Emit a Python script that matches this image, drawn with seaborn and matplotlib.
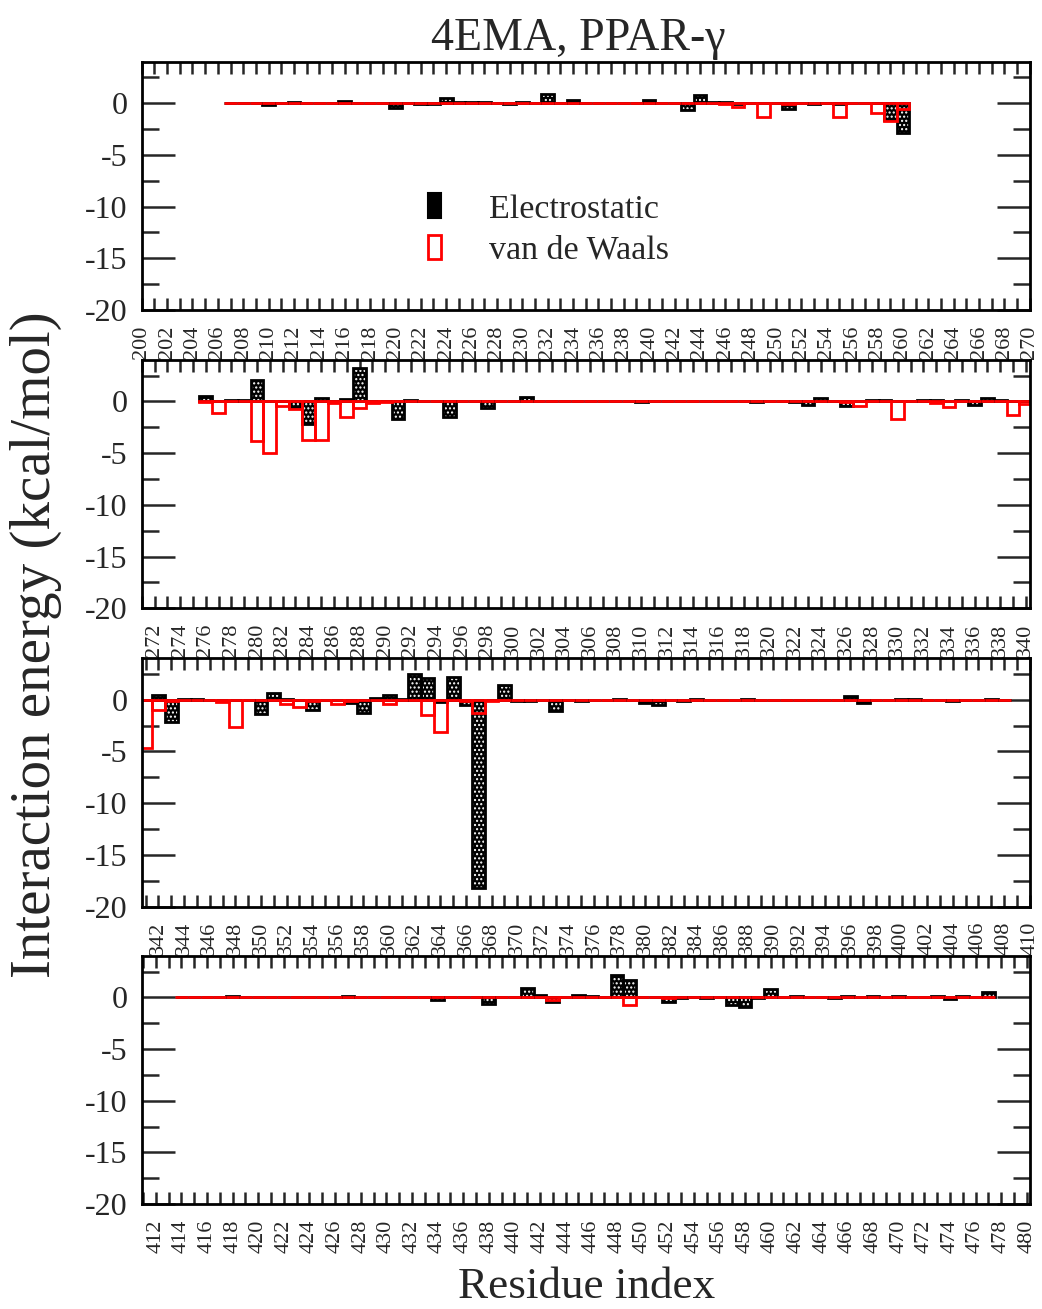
import matplotlib
matplotlib.use("Agg")
import matplotlib.pyplot as plt
import seaborn as sns
import pandas as pd
from matplotlib.patches import Patch
from matplotlib.ticker import MultipleLocator

# ---------------- data ----------------
res1 = list(range(207, 261))
elec1 = [0.0, 0.0, 0.0, -0.2, 0.0, 0.15, 0.0, 0.0, 0.0, 0.2,
         0.0, 0.0, 0.0, -0.5, 0.0, -0.1, -0.1, 0.5, 0.1, 0.1,
         0.1, 0.0, -0.1, 0.15, 0.0, 0.9, 0.0, 0.3, 0.0, 0.0,
         0.0, 0.0, 0.0, 0.25, 0.0, 0.0, -0.7, 0.75, 0.1, 0.1,
         -0.1, 0.0, 0.05, 0.0, -0.6, 0.0, -0.05, 0.0, -0.1, 0.0,
         0.0, 0.0, -1.6, -2.9]
vdw1 = [0.0, 0.0, 0.0, 0.0, 0.0, 0.0, 0.0, 0.0, 0.0, 0.0,
        0.0, 0.0, 0.0, 0.0, 0.0, 0.0, 0.0, 0.0, 0.0, 0.0,
        0.0, 0.0, 0.0, 0.0, 0.0, 0.0, 0.0, 0.0, 0.0, 0.0,
        0.0, 0.0, 0.0, 0.0, 0.0, 0.0, 0.0, 0.0, 0.0, -0.05,
        -0.4, 0.0, -1.35, 0.0, -0.05, 0.0, 0.0, 0.0, -1.35, 0.0,
        0.0, -0.95, -1.75, -0.6]

res2 = list(range(276, 341))
elec2 = [0.55, 0.05, 0.1, 0.1, 2.1, 0.0, 0.05, -0.5, -2.2, 0.3,
         0.0, 0.2, 3.2, 0.0, 0.05, -1.7, 0.1, 0.0, 0.0, -1.5,
         0.0, 0.0, -0.6, 0.0, 0.0, 0.4, 0.0, 0.0, 0.0, 0.0,
         0.0, 0.0, 0.0, 0.0, -0.1, 0.0, 0.0, 0.0, 0.0, 0.0,
         0.0, 0.0, 0.0, -0.1, 0.0, 0.0, -0.1, -0.35, 0.35, 0.0,
         -0.4, 0.0, 0.15, 0.15, 0.05, 0.0, 0.15, 0.1, 0.0, 0.1,
         -0.35, 0.3, 0.1, 0.05, 0.0]
vdw2 = [-0.1, -1.1, 0.0, 0.0, -3.8, -5.0, -0.4, -0.7, -3.7, -3.7,
        -0.2, -1.5, -0.6, -0.2, -0.05, 0.0, 0.0, 0.0, 0.0, 0.0,
        0.0, 0.0, 0.0, 0.0, 0.0, 0.0, 0.0, 0.0, 0.0, 0.0,
        0.0, 0.0, 0.0, 0.0, 0.0, 0.0, 0.0, 0.0, 0.0, 0.0,
        0.0, 0.0, 0.0, 0.0, 0.0, 0.0, 0.0, 0.0, 0.0, 0.0,
        -0.1, -0.4, 0.0, 0.0, -1.75, 0.0, 0.0, -0.2, -0.5, 0.0,
        0.0, 0.0, 0.0, -1.3, -0.3]

res3 = list(range(341, 409))
elec3 = [0.0, 0.5, -2.2, 0.1, 0.1, 0.0, 0.0, 0.0, 0.0, -1.35,
         0.6, 0.1, 0.0, -1.0, 0.0, 0.0, -0.3, -1.25, 0.2, 0.45,
         0.1, 2.5, 2.1, -0.2, 2.2, -0.5, -18.2, 0.0, 1.4, -0.1,
         -0.1, 0.0, -1.1, 0.0, -0.1, 0.0, 0.0, 0.1, 0.0, -0.3,
         -0.55, 0.0, -0.15, 0.1, 0.0, 0.0, 0.0, 0.1, 0.0, 0.0,
         0.0, 0.0, 0.0, 0.0, 0.0, 0.35, -0.3, 0.0, 0.0, 0.1,
         0.1, 0.0, 0.0, -0.1, 0.0, 0.0, 0.1, 0.0]
vdw3 = [-4.7, -1.0, -0.1, 0.0, 0.0, 0.0, -0.2, -2.6, 0.0, 0.0,
        0.0, -0.4, -0.7, -0.1, 0.0, -0.45, -0.1, 0.0, 0.0, -0.45,
        0.0, 0.0, -1.5, -3.1, 0.0, -0.1, -1.25, -0.1, 0.0, 0.0,
        0.0, 0.0, 0.0, 0.0, 0.0, 0.0, 0.0, 0.0, 0.0, 0.0,
        0.0, 0.0, 0.0, 0.0, 0.0, 0.0, 0.0, 0.0, 0.0, 0.0,
        0.0, 0.0, 0.0, 0.0, 0.0, 0.0, 0.0, 0.0, 0.0, 0.0,
        0.0, 0.0, 0.0, 0.0, 0.0, 0.0, 0.0, 0.0]

res4 = list(range(414, 478))
elec4 = [0.0, 0.0, 0.0, 0.0, 0.15, 0.0, 0.0, 0.0, 0.0, 0.0,
         0.0, 0.0, 0.0, 0.15, 0.0, 0.0, 0.0, 0.0, 0.0, 0.0,
         -0.3, 0.0, 0.0, 0.0, -0.65, 0.0, 0.0, 0.95, 0.2, -0.45,
         0.0, 0.2, 0.1, 0.0, 2.15, 1.7, 0.05, 0.0, -0.45, -0.1,
         0.0, -0.1, 0.0, -0.7, -0.9, -0.05, 0.8, 0.0, 0.1, 0.0,
         0.0, -0.05, 0.15, 0.0, 0.1, 0.0, 0.1, 0.0, 0.0, 0.1,
         -0.2, 0.15, 0.0, 0.5]
vdw4 = [0.0, 0.0, 0.0, 0.0, 0.0, 0.0, 0.0, 0.0, 0.0, 0.0,
        0.0, 0.0, 0.0, 0.0, 0.0, 0.0, 0.0, 0.0, 0.0, 0.0,
        0.0, 0.0, 0.0, 0.0, 0.0, 0.0, 0.0, 0.0, 0.0, -0.3,
        0.0, 0.0, 0.0, 0.0, 0.0, -0.7, 0.0, 0.0, -0.1, 0.0,
        0.0, 0.0, 0.0, 0.0, 0.0, 0.0, 0.0, 0.0, 0.0, 0.0,
        0.0, 0.0, 0.0, 0.0, 0.0, 0.0, 0.0, 0.0, 0.0, 0.0,
        0.0, 0.0, 0.0, 0.0]

title_text = "4EMA, PPAR-\u03b3"
ylabel_text = "Interaction energy (kcal/mol)"
xlabel_text = "Residue index"
legend_labels = ["Electrostatic", "van de Waals"]

# ---------------- style ----------------
sns.set_style("ticks")
plt.rcParams["font.family"] = ["Liberation Serif", "DejaVu Serif"]
plt.rcParams["axes.unicode_minus"] = False
plt.rcParams["hatch.linewidth"] = 1.0

W, H = 1042, 1309
fig = plt.figure(figsize=(W / 100, H / 100), dpi=100)

left_px, right_px = 141.7, 1030.0
panel_px = [(61.7, 310.0), (360.0, 608.3), (658.3, 906.7), (956.0, 1204.0)]
xlims = [(200.0, 270.02), (271.0, 340.32), (340.69, 410.02), (410.9, 480.25)]

panels = [(res1, elec1, vdw1), (res2, elec2, vdw2),
          (res3, elec3, vdw3), (res4, elec4, vdw4)]

axes = []
for (top, bot), (res, el, vd), xl in zip(panel_px, panels, xlims):
    ax = fig.add_axes([left_px / W, 1 - bot / H, (right_px - left_px) / W, (bot - top) / H])
    df = pd.DataFrame({"res": res, "elec": el, "vdw": vd})
    # electrostatic: black face with white dotted hatch
    sns.barplot(data=df, x="res", y="elec", native_scale=True, width=1.0,
                color="black", saturation=1, errorbar=None, ax=ax,
                edgecolor="white", linewidth=0, hatch="....")
    # electrostatic outline
    sns.barplot(data=df, x="res", y="elec", native_scale=True, width=1.0,
                color="black", saturation=1, errorbar=None, ax=ax,
                fill=False, linewidth=2.0)
    # van der Waals: red outlines
    sns.barplot(data=df, x="res", y="vdw", native_scale=True, width=1.0,
                color="red", saturation=1, errorbar=None, ax=ax,
                fill=False, linewidth=2.0)
    ax.set_xlim(*xl)
    ax.set_ylim(-20, 4)
    ax.set_xlabel("")
    ax.set_ylabel("")
    ax.xaxis.set_major_locator(MultipleLocator(2))
    ax.xaxis.set_minor_locator(MultipleLocator(1))
    ax.yaxis.set_major_locator(MultipleLocator(5))
    ax.yaxis.set_minor_locator(MultipleLocator(2.5))
    ax.tick_params(axis="x", which="both", direction="in", top=True, bottom=True,
                   length=8.6, width=1.8, labelsize=16, labelrotation=90, pad=11)
    ax.tick_params(axis="y", which="major", direction="in", left=True, right=True,
                   length=24, width=1.8, labelsize=23, pad=10)
    ax.tick_params(axis="y", which="minor", direction="in", left=True, right=True,
                   length=12, width=1.8)
    for s in ax.spines.values():
        s.set_linewidth(2.0)
        s.set_color("black")
    axes.append(ax)

# legend in the first panel
handles = [Patch(facecolor="black", edgecolor="black", hatch="....", linewidth=1.5),
           Patch(facecolor="none", edgecolor="red", linewidth=2.0)]
axes[0].legend(handles, legend_labels, loc="upper left",
               bbox_to_anchor=(0.322, 0.47), frameon=False, fontsize=24.5,
               handlelength=0.4, handleheight=0.74, handletextpad=1.4,
               labelspacing=0.3, borderpad=0, borderaxespad=0)

fig.text(578 / W, 1 - 50 / H, title_text, ha="center", va="baseline", fontsize=33)
fig.text(36 / W, 1 - 645 / H, ylabel_text, ha="center", va="center",
         rotation=90, fontsize=41)
fig.text(586.5 / W, 1 - 1287 / H, xlabel_text, ha="center", va="center", fontsize=32.5)

fig.savefig("out.png", dpi=100)
